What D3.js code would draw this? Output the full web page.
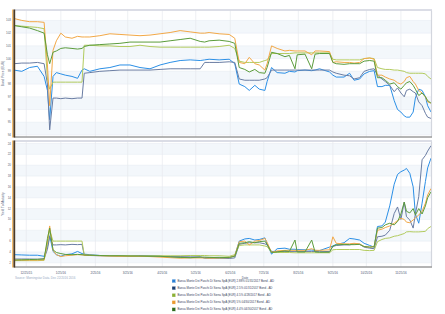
<!DOCTYPE html>
<html>
<head>
<meta charset="utf-8">
<script src="https://cdn.jsdelivr.net/npm/d3@7"></script>
<style>
  body { margin: 0; background: #fff; }
  svg text { font-family: "Liberation Sans", Arial, sans-serif; }
</style>
</head>
<body>
<div id="chart"></div>
<script>
// Data
const dates = ['2015-12-14','2015-12-21','2015-12-28','2016-01-04','2016-01-10','2016-01-13','2016-01-15','2016-01-18',
  '2016-01-21','2016-01-25','2016-01-29','2016-02-04','2016-02-09','2016-02-13','2016-02-15','2016-02-20','2016-02-29',
  '2016-03-09','2016-03-18','2016-03-27','2016-04-05','2016-04-14','2016-04-23','2016-05-02','2016-05-11','2016-05-20',
  '2016-05-29','2016-06-02','2016-06-06','2016-06-15','2016-06-24','2016-06-29','2016-07-03','2016-07-08','2016-07-12',
  '2016-07-17','2016-07-21','2016-07-26','2016-07-28','2016-08-01','2016-08-06','2016-08-13','2016-08-17','2016-08-22',
  '2016-08-24','2016-08-31','2016-09-06','2016-09-09','2016-09-13','2016-09-22','2016-09-25','2016-09-28','2016-10-05',
  '2016-10-10','2016-10-14','2016-10-19','2016-10-23','2016-10-28','2016-11-01','2016-11-04','2016-11-08','2016-11-11',
  '2016-11-15','2016-11-19','2016-11-22','2016-11-25','2016-11-28','2016-11-30','2016-12-03','2016-12-06','2016-12-08',
  '2016-12-11','2016-12-14','2016-12-17','2016-12-19','2016-12-22'];

const seriesNames = [
  'Banca Monte Dei Paschi Di Siena SpA (EUR) 2.88% 01/31/2017 Bond - AD',
  'Banca Monte Dei Paschi Di Siena SpA (EUR) 2.5% 01/31/2017 Bond - AD',
  'Banca Monte Dei Paschi Di Siena SpA (EUR) 4.5% 4/28/2017 Bond - AD',
  'Banca Monte Dei Paschi Di Siena SpA (EUR) 5% 04/30/2017 Bond - AD',
  'Banca Monte Dei Paschi Di Siena SpA (EUR) 4.4% 04/30/2017 Bond - AD'
];

const priceBlue = [99.1,99.0,99.3,99.4,98.6,97.5,95.2,98.6,98.9,98.8,98.7,98.6,98.45,99.1,99.2,99.0,99.2,99.3,99.5,99.5,
  99.3,99.2,99.5,99.7,99.85,99.9,99.85,99.9,99.95,99.9,99.95,99.6,98.0,97.8,97.5,97.9,97.6,97.5,98.2,99.3,98.9,98.85,
  99.0,98.95,99.05,99.1,99.05,99.1,99.2,98.95,98.7,98.55,98.55,98.85,98.3,98.4,98.8,99.0,99.05,97.8,97.8,97.9,97.9,
  96.7,96.0,95.8,95.5,95.4,95.4,95.8,96.9,97.6,97.5,97.0,96.3,95.8];
const priceSlate = [99.6,99.65,99.65,99.7,99.6,98.0,94.4,96.9,96.9,96.85,96.9,96.85,96.9,96.9,98.85,98.9,99.0,99.05,99.1,
  99.1,99.1,99.1,99.15,99.2,99.2,99.2,99.2,99.7,99.7,99.7,99.75,99.7,98.4,98.3,98.3,98.3,98.3,98.4,98.5,99.1,99.1,99.1,
  99.1,99.1,99.1,99.1,99.1,99.1,99.1,99.1,98.95,98.85,98.7,98.65,98.4,98.5,99.0,99.15,99.2,98.7,98.4,98.2,97.9,97.4,
  97.7,97.3,97.0,97.5,97.6,97.4,97.3,96.6,96.3,95.7,95.4,95.3];
const priceLime = [102.6,102.55,102.5,102.45,102.35,98.4,97.6,98.15,98.15,98.15,98.15,98.15,98.15,98.15,101.05,101.05,
  101.0,101.0,100.95,100.95,101.05,100.95,100.9,100.9,100.9,100.9,100.9,100.9,100.9,100.95,101.05,100.8,99.8,99.7,99.7,
  99.7,99.7,99.85,99.9,100.4,100.4,100.4,100.4,100.45,100.45,100.45,100.45,100.45,100.45,100.45,99.95,99.9,99.9,99.9,
  99.9,99.9,100.0,100.05,100.0,99.3,99.2,99.15,99.15,99.1,99.1,99.05,99.0,98.9,98.85,98.85,98.85,98.85,98.85,98.8,
  98.6,98.4];
const priceOrange = [103.15,103.0,102.9,102.9,102.85,99.5,96.3,100.65,101.4,102.0,101.7,101.6,101.75,101.7,101.7,101.7,
  101.8,101.95,101.9,101.85,101.8,101.85,101.95,102.05,102.2,102.1,102.0,102.0,102.05,101.95,101.9,101.6,99.7,99.6,100.1,
  99.6,99.5,99.1,99.6,101.0,100.8,100.6,100.65,100.6,100.6,100.6,100.3,100.6,100.6,100.55,99.7,99.75,99.7,99.7,99.65,
  99.7,100.0,100.05,99.95,98.7,98.7,98.55,98.4,98.3,98.1,98.0,98.2,98.5,98.6,98.2,98.0,97.5,97.3,97.0,96.6,96.5];
const priceGreen = [102.6,102.5,102.4,102.2,102.0,100.3,99.6,100.5,100.6,100.8,100.85,100.8,100.75,100.8,100.95,101.05,
  101.1,101.15,101.2,101.3,101.3,101.3,101.3,101.4,101.5,101.6,101.35,101.3,101.4,101.45,101.35,101.2,99.3,99.15,98.95,
  99.15,98.9,98.85,99.3,100.5,100.4,100.15,100.25,99.2,100.3,100.35,99.2,100.35,100.4,100.4,99.7,99.6,99.55,99.6,99.6,
  99.6,99.8,99.85,99.8,98.5,98.5,98.3,98.0,98.1,97.8,97.6,97.9,98.1,98.2,97.9,97.6,97.1,97.3,97.0,96.7,96.5];

const yieldBlue = [3.5,3.45,3.4,3.4,3.2,5.0,7.0,4.1,3.5,3.2,3.5,3.65,4.1,3.7,3.6,3.5,3.35,3.3,3.25,3.3,3.3,3.35,3.2,3.1,
  3.0,2.95,3.0,2.95,2.95,3.0,2.95,3.3,6.0,6.4,6.5,6.2,6.3,6.6,5.5,3.6,4.6,4.7,4.5,4.5,4.45,4.4,4.35,4.3,4.25,4.9,5.1,
  5.4,5.7,6.5,6.4,6.2,5.6,5.2,4.9,8.7,8.8,9.5,12.5,16.5,18.3,18.8,19.1,19.4,18.5,16.0,11.0,9.3,13.0,17.0,19.5,21.3];
const yieldSlate = [2.7,2.7,2.7,2.65,2.75,4.5,6.8,5.3,5.3,5.35,5.3,5.4,5.35,5.4,3.4,3.35,3.3,3.3,3.25,3.25,3.25,3.25,3.2,
  3.15,3.15,3.1,3.1,2.85,2.85,2.85,2.8,2.9,5.4,5.6,5.7,5.7,5.7,5.5,5.3,4.1,4.1,4.1,4.1,4.1,4.1,4.1,4.1,4.1,4.05,4.1,5.0,
  5.2,5.3,5.3,5.5,5.4,4.9,4.7,4.6,6.8,6.9,7.1,8.0,11.1,12.3,10.0,13.2,10.5,9.9,8.4,11.0,14.2,21.0,21.8,22.6,23.6];
const yieldLime = [2.4,2.4,2.4,2.4,2.45,5.5,8.0,6.0,6.0,6.0,6.0,6.0,6.0,6.0,3.45,3.4,3.35,3.3,3.3,3.3,3.25,3.3,3.3,3.3,
  3.3,3.35,3.35,3.35,3.3,3.3,3.2,3.5,5.2,5.3,5.3,5.3,5.3,5.1,5.0,3.9,3.9,3.9,3.9,3.85,3.85,3.85,3.85,3.85,3.85,3.85,4.4,
  4.45,4.45,4.45,4.45,4.45,4.3,4.25,4.3,5.9,6.3,6.5,6.6,6.9,7.0,7.2,7.4,7.7,7.75,7.7,7.7,7.7,7.75,7.8,8.3,8.7];
const yieldOrange = [2.5,2.5,2.5,2.5,2.55,6.0,8.8,4.3,3.5,3.15,3.3,3.4,3.5,3.45,3.4,3.4,3.3,3.25,3.2,3.2,3.2,3.15,3.05,
  2.95,2.85,2.9,2.9,2.9,2.85,2.9,2.95,3.3,5.9,6.0,5.3,6.0,6.1,6.5,5.8,3.9,4.2,4.3,4.3,4.3,4.3,4.3,4.6,4.3,4.3,4.4,6.8,
  5.6,5.5,5.5,5.6,5.5,5.0,4.9,5.0,8.0,8.2,8.5,8.8,9.3,9.8,10.2,10.0,9.5,9.4,9.9,10.3,10.8,11.5,13.0,14.5,15.7];
const yieldGreen = [2.5,2.55,2.6,2.65,2.7,6.5,8.4,4.4,3.9,3.7,3.55,3.5,3.55,3.5,3.45,3.4,3.35,3.3,3.3,3.25,3.25,3.2,3.2,
  3.1,3.0,2.95,3.05,3.05,3.0,2.95,3.0,3.2,5.6,5.7,5.9,5.7,5.9,6.0,5.4,3.9,4.0,4.2,4.1,6.2,4.0,4.0,6.2,4.0,3.95,3.95,5.1,
  5.3,5.4,5.35,5.35,5.4,5.0,4.9,4.95,8.4,8.5,9.0,9.3,9.0,9.6,11.0,13.2,11.5,11.2,12.0,10.8,12.0,11.0,12.5,14.0,15.1];

const priceTicks = [94, 95, 96, 97, 98, 99, 100, 101, 102, 103];
const yieldTicks = [2, 4, 6, 8, 10, 12, 14, 16, 18, 20, 22, 24];
const dateTicks = ['2015-12-25','2016-01-25','2016-02-25','2016-03-25','2016-04-25','2016-05-25','2016-06-25',
  '2016-07-25','2016-08-25','2016-09-25','2016-10-25','2016-11-25'];

// Styles
const lineColors = ['#2b8fe6', '#6a7da3', '#b2cb5e', '#f2a847', '#5b9c3c'];
const keyColors = ['#2a7fd4', '#1c3f72', '#8bb034', '#ea9a30', '#2f6b1f'];

const W = 445, H = 314;
const LEFT = 14, RIGHT = 431;
const parse = d3.timeParse('%Y-%m-%d');
const dt = dates.map(parse);

const svg = d3.select('#chart').append('svg').attr('width', W).attr('height', H);

const x = d3.scaleTime()
  .domain([parse('2015-12-14'), parse('2016-12-22')])
  .range([LEFT, RIGHT]);

function panel(top, bottom, domain, ticks, series, title) {
  const y = d3.scaleLinear().domain(domain).range([bottom, top]);
  const g = svg.append('g');

  // bands between ticks
  for (let i = 0; i < ticks.length - 1; i++) {
    if (i % 2 === 1) continue;
    g.append('rect')
      .attr('x', LEFT).attr('width', RIGHT - LEFT)
      .attr('y', y(ticks[i + 1])).attr('height', y(ticks[i]) - y(ticks[i + 1]))
      .attr('fill', '#f3f7fb');
  }
  // horizontal grid
  g.selectAll('.hg').data(ticks).enter().append('line')
    .attr('x1', LEFT).attr('x2', RIGHT)
    .attr('y1', d => y(d)).attr('y2', d => y(d))
    .attr('stroke', '#e7edf3').attr('stroke-width', 0.6);
  // vertical grid
  g.selectAll('.vg').data(dateTicks.map(parse)).enter().append('line')
    .attr('x1', d => x(d)).attr('x2', d => x(d))
    .attr('y1', top).attr('y2', bottom)
    .attr('stroke', '#e6e9ee').attr('stroke-width', 0.7);

  const line = d3.line().x((d, i) => x(dt[i])).y(d => y(d));
  series.forEach((s, k) => {
    g.append('path').datum(s)
      .attr('d', line)
      .attr('fill', 'none')
      .attr('stroke', lineColors[k])
      .attr('stroke-width', 1)
      .attr('stroke-linejoin', 'round');
  });

  // frame
  g.append('line').attr('x1', LEFT).attr('x2', RIGHT + 1).attr('y1', top - 0.5).attr('y2', top - 0.5)
    .attr('stroke', '#cfd2de').attr('stroke-width', 1.5);
  g.append('line').attr('x1', RIGHT + 0.5).attr('x2', RIGHT + 0.5).attr('y1', top).attr('y2', bottom)
    .attr('stroke', '#d3d6de').attr('stroke-width', 1.2);
  g.append('line').attr('x1', LEFT).attr('x2', RIGHT + 1).attr('y1', bottom + 0.5).attr('y2', bottom + 0.5)
    .attr('stroke', '#6b6b6b').attr('stroke-width', 1);
  g.append('line').attr('x1', LEFT - 1.2).attr('x2', LEFT - 1.2).attr('y1', top - 1).attr('y2', bottom + 1)
    .attr('stroke', '#f0a030').attr('stroke-width', 1);
  g.append('line').attr('x1', LEFT + 0.3).attr('x2', LEFT + 0.3).attr('y1', top - 1).attr('y2', bottom + 1)
    .attr('stroke', '#4a3a28').attr('stroke-width', 1.8);

  // y axis labels
  g.selectAll('.yl').data(ticks).enter().append('text')
    .attr('x', 11).attr('y', d => y(d) + 1)
    .attr('text-anchor', 'end')
    .attr('font-size', 3)
    .attr('fill', '#5a6478')
    .text(d => d);

  g.append('text')
    .attr('transform', `translate(3.5,${(top + bottom) / 2}) rotate(-90)`)
    .attr('text-anchor', 'middle')
    .attr('font-size', 3.2)
    .attr('fill', '#4a5570')
    .text(title);
  return y;
}

panel(10.5, 136.5, [93.88, 103.78], priceTicks,
  [priceBlue, priceSlate, priceLime, priceOrange, priceGreen], 'Bond Price (EUR)');
panel(141.5, 266.5, [1.32, 24.37], yieldTicks,
  [yieldBlue, yieldSlate, yieldLime, yieldOrange, yieldGreen], 'Yield To Maturity');

// x axis labels
const fmt = d3.timeFormat('%-m/%d/%y');
svg.selectAll('.xl').data(dateTicks.map(parse)).enter().append('text')
  .attr('x', d => x(d)).attr('y', 273.5)
  .attr('text-anchor', 'middle')
  .attr('font-size', 3)
  .attr('fill', '#4a5570')
  .text(d => fmt(d));

svg.append('text')
  .attr('x', 245).attr('y', 278.5)
  .attr('text-anchor', 'middle')
  .attr('font-size', 3)
  .attr('fill', '#4a5570')
  .text('Date');

svg.append('text')
  .attr('x', 15).attr('y', 278.5)
  .attr('font-size', 3)
  .attr('fill', '#9aabc4')
  .text('Source: Morningstar Data. Dec 22/2016 2016');

// legend
const legend = svg.append('g');
seriesNames.forEach((name, i) => {
  const ly = 281 + i * 7.1;
  legend.append('rect')
    .attr('x', 172).attr('y', ly - 1.8).attr('width', 3.6).attr('height', 3.6)
    .attr('fill', keyColors[i]).attr('stroke', '#ffffff').attr('stroke-width', 0.3);
  legend.append('text')
    .attr('x', 177.5).attr('y', ly + 1)
    .attr('font-size', 2.9)
    .attr('fill', '#3a4560')
    .text(name);
});
</script>
</body>
</html>
